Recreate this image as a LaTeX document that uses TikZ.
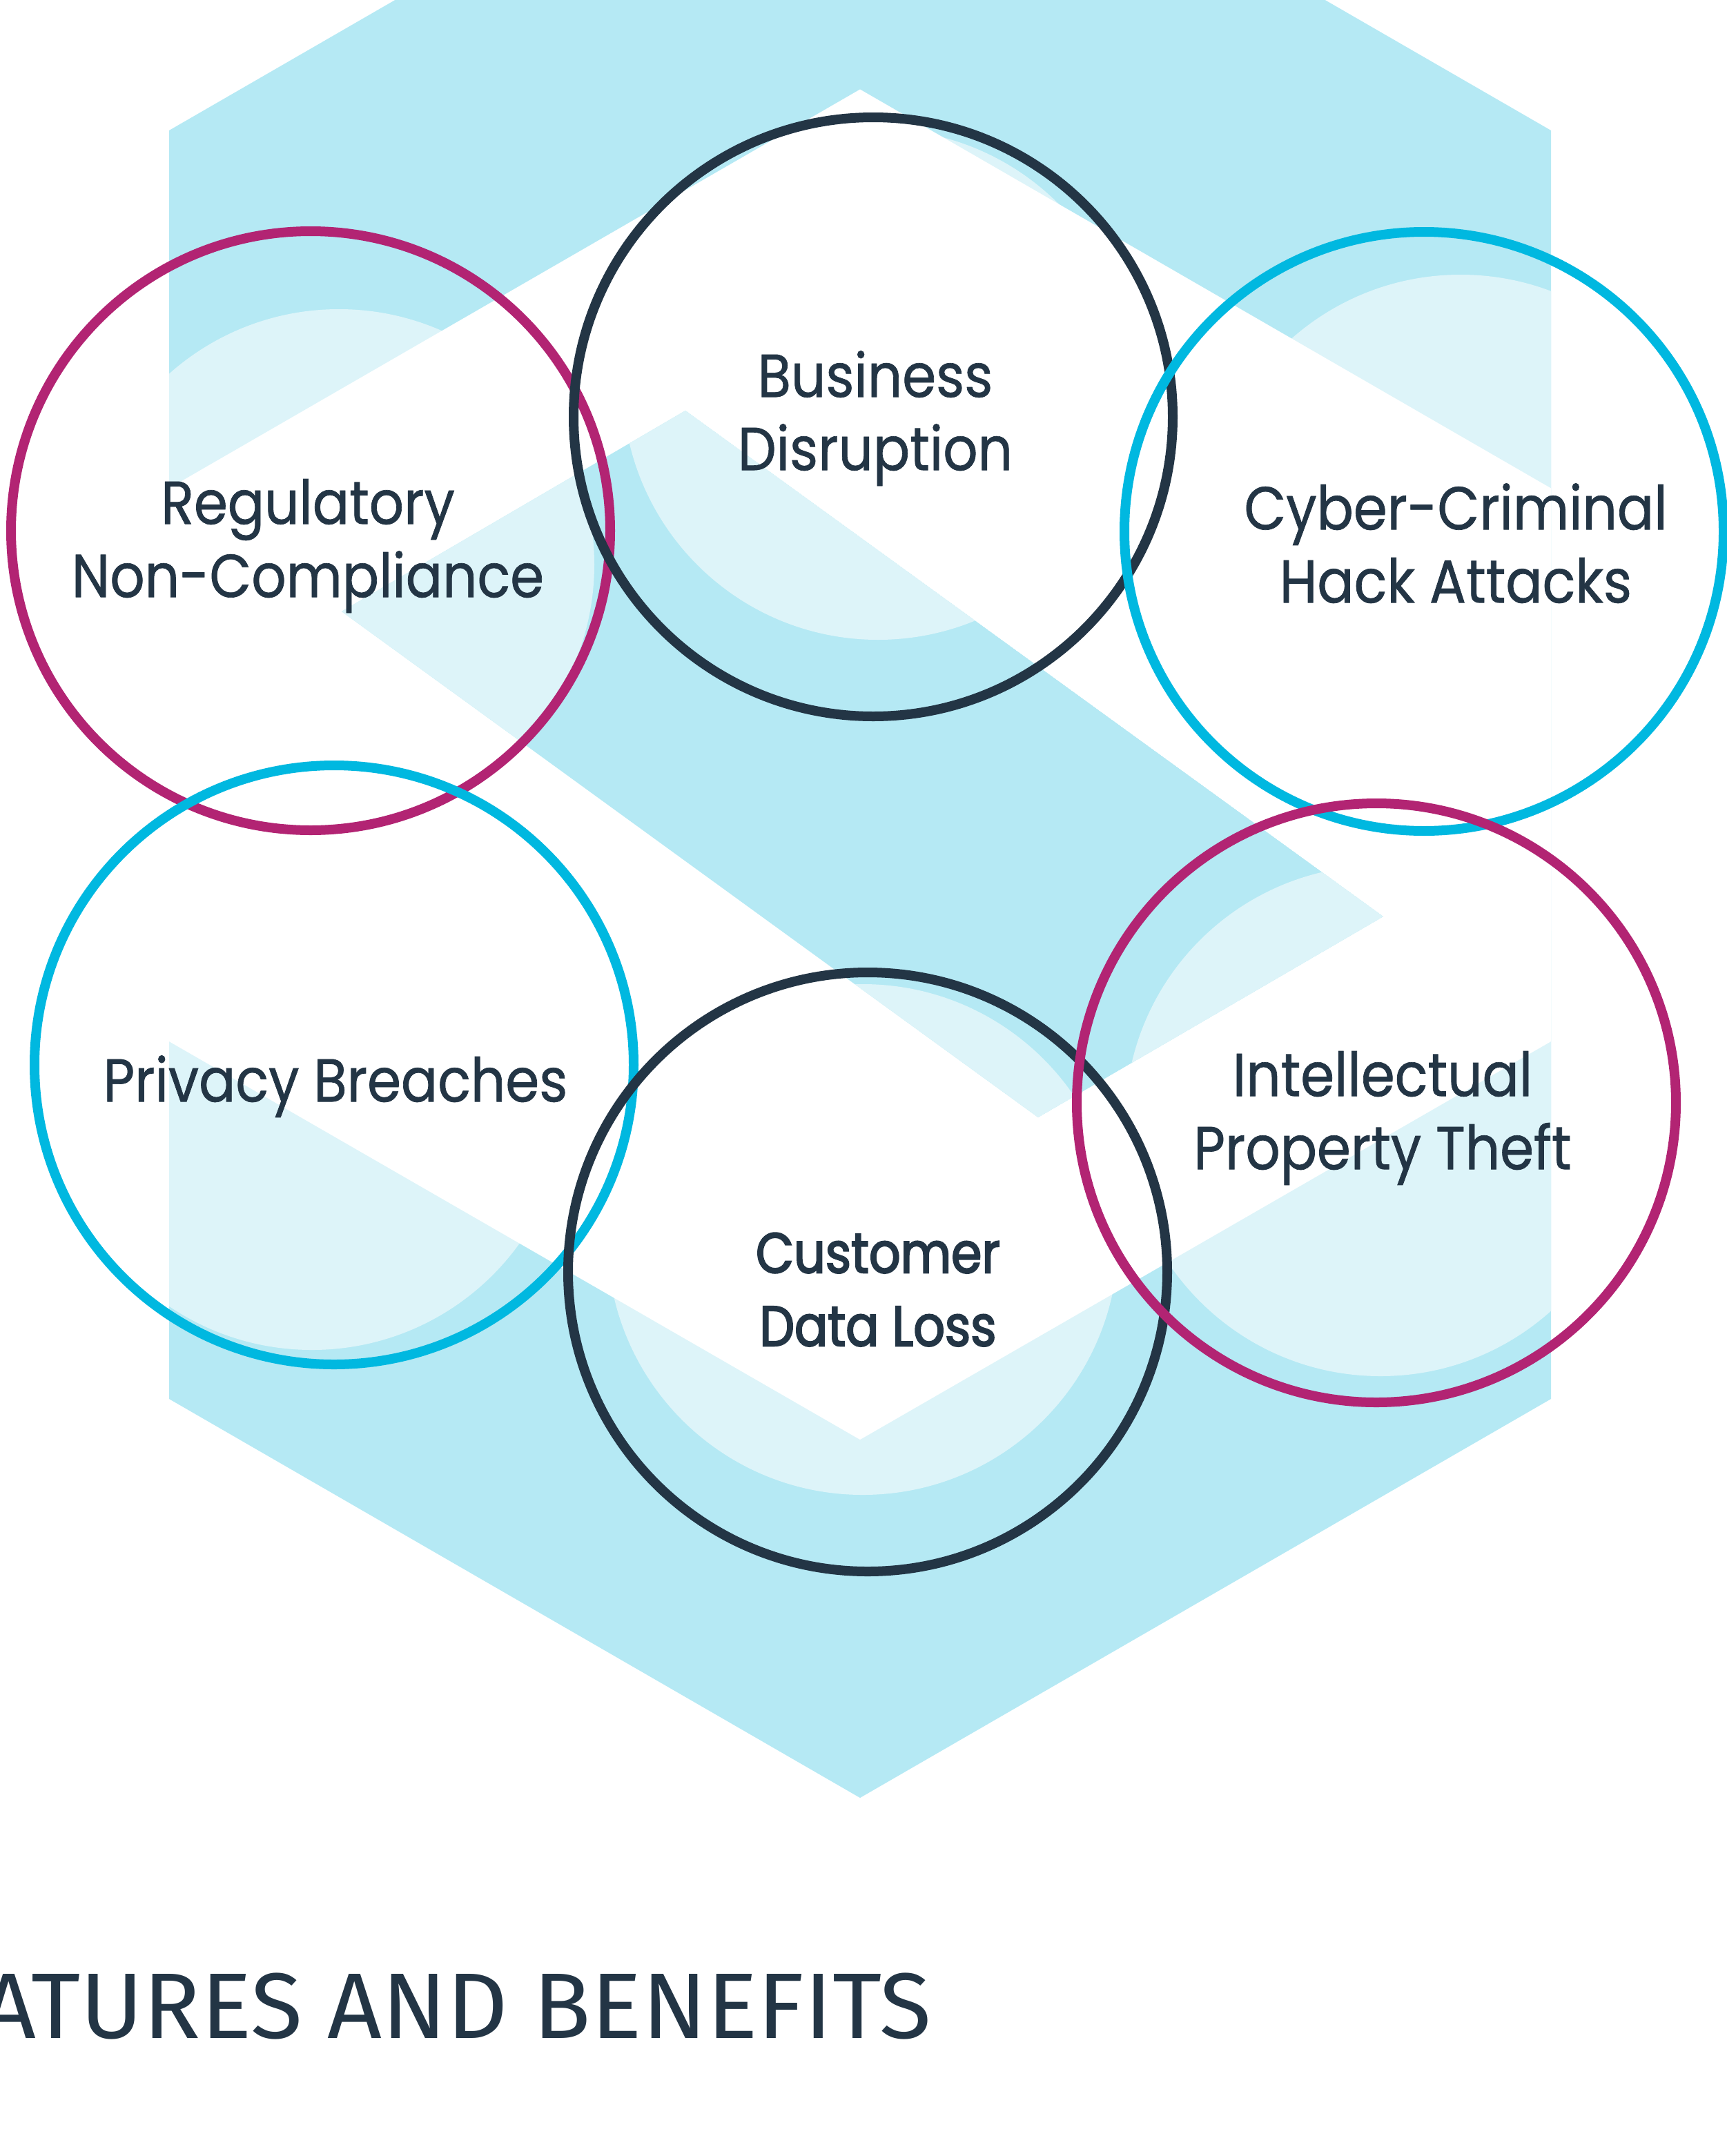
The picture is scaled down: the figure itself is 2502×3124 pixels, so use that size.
\documentclass[tikz,border=0pt]{standalone}
\usepackage{fontspec}
\newfontfamily\lblfont{Poppins}[FakeStretch=0.895,FakeBold=0.8]
\newfontfamily\custfont{Poppins}[FakeStretch=0.87,FakeBold=2.6]
\newfontfamily\headfont{Fira Sans}[FakeStretch=1.02]
\definecolor{hexblue}{HTML}{B5E9F4}
\definecolor{hexlight}{HTML}{DDF4F9}
\definecolor{navy}{HTML}{233545}
\definecolor{ringmag}{HTML}{B22473}
\definecolor{ringcyan}{HTML}{00B8E0}
\begin{document}
\begin{tikzpicture}[x=1pt,y=-1pt,
  ring/.style={circle,draw,line width=14pt,minimum size=868pt,inner sep=0pt,outer sep=0pt},
  lbl/.style={text=navy,align=center,inner sep=0pt,font=\lblfont\fontsize{88}{106}\selectfont},
  custlbl/.style={text=navy,align=center,inner sep=0pt,font=\custfont\fontsize{82}{106}\selectfont},
  shade/.style={fill=hexlight}]
\useasboundingbox (0,0) rectangle (2502,3124);
\clip (0,0) rectangle (2502,3124);
% outer hexagon
\fill[hexblue] (245,189) -- (1246,-389) -- (2247,189) -- (2247,2027) -- (1246,2605) -- (245,2027) -- cycle;
% light shadow circles inside outer hexagon
\begin{scope}
  \clip (245,189) -- (1246,-389) -- (2247,189) -- (2247,2027) -- (1246,2605) -- (245,2027) -- cycle;
  \fill[shade] (491,818) circle[radius=370];
  \fill[shade] (1272,557) circle[radius=370];
  \fill[shade] (2116,768) circle[radius=370];
  \fill[shade] (2000,1624) circle[radius=370];
  \fill[shade] (1250,1796) circle[radius=370];
  \fill[shade] (452,1586) circle[radius=370];
\end{scope}
% white inner hexagon
\fill[white] (1246,129.5) -- (2247,707.5) -- (2247,1509) -- (1246,2086) -- (245,1509) -- (245,707.5) -- cycle;
% parallelogram band
\begin{scope}
  \clip (993,595) -- (2004,1328) -- (1504,1619) -- (495,886) -- cycle;
  \fill[hexblue] (993,595) -- (2004,1328) -- (1504,1619) -- (495,886) -- cycle;
  \fill[shade] (491,818) circle[radius=370];
  \fill[shade] (1272,557) circle[radius=370];
  \fill[shade] (2116,768) circle[radius=370];
  \fill[shade] (2000,1624) circle[radius=370];
  \fill[shade] (1250,1796) circle[radius=370];
  \fill[shade] (452,1586) circle[radius=370];
\end{scope}
% rings
\node[ring,draw=ringmag]  (regring)  at (450,769)   {};
\node[ring,draw=ringcyan] (privring) at (484,1543)  {};
\node[ring,draw=navy]     (busring)  at (1265,604)  {};
\node[ring,draw=navy]     (custring) at (1257,1843) {};
\node[ring,draw=ringcyan] (cybring)  at (2063,770)  {};
\node[ring,draw=ringmag]  (ipring)   at (1994,1598) {};
% labels
\node[lbl] (reg)  at (446,791)   {\strut Regulatory\\\strut Non-Compliance};
\node[lbl] (bus)  at (1268,607)  {\strut Business\\\strut Disruption};
\node[lbl] (cyb)  at (2109,799)  {\strut Cyber-Criminal\\\strut Hack Attacks};
\node[lbl] (priv) at (486,1575)  {\strut Privacy Breaches};
\node[custlbl] (cust) at (1272,1876) {\strut Customer\\\strut Data Loss};
\node[lbl] (ip)   at (2003,1620) {\strut Intellectual\\\strut Property Theft};
% heading
\node[anchor=base east,text=navy,inner sep=0pt,font=\headfont\fontsize{135}{135}\selectfont] (head) at (1350,2953) {ATURES AND BENEFITS};
\end{tikzpicture}
\end{document}
